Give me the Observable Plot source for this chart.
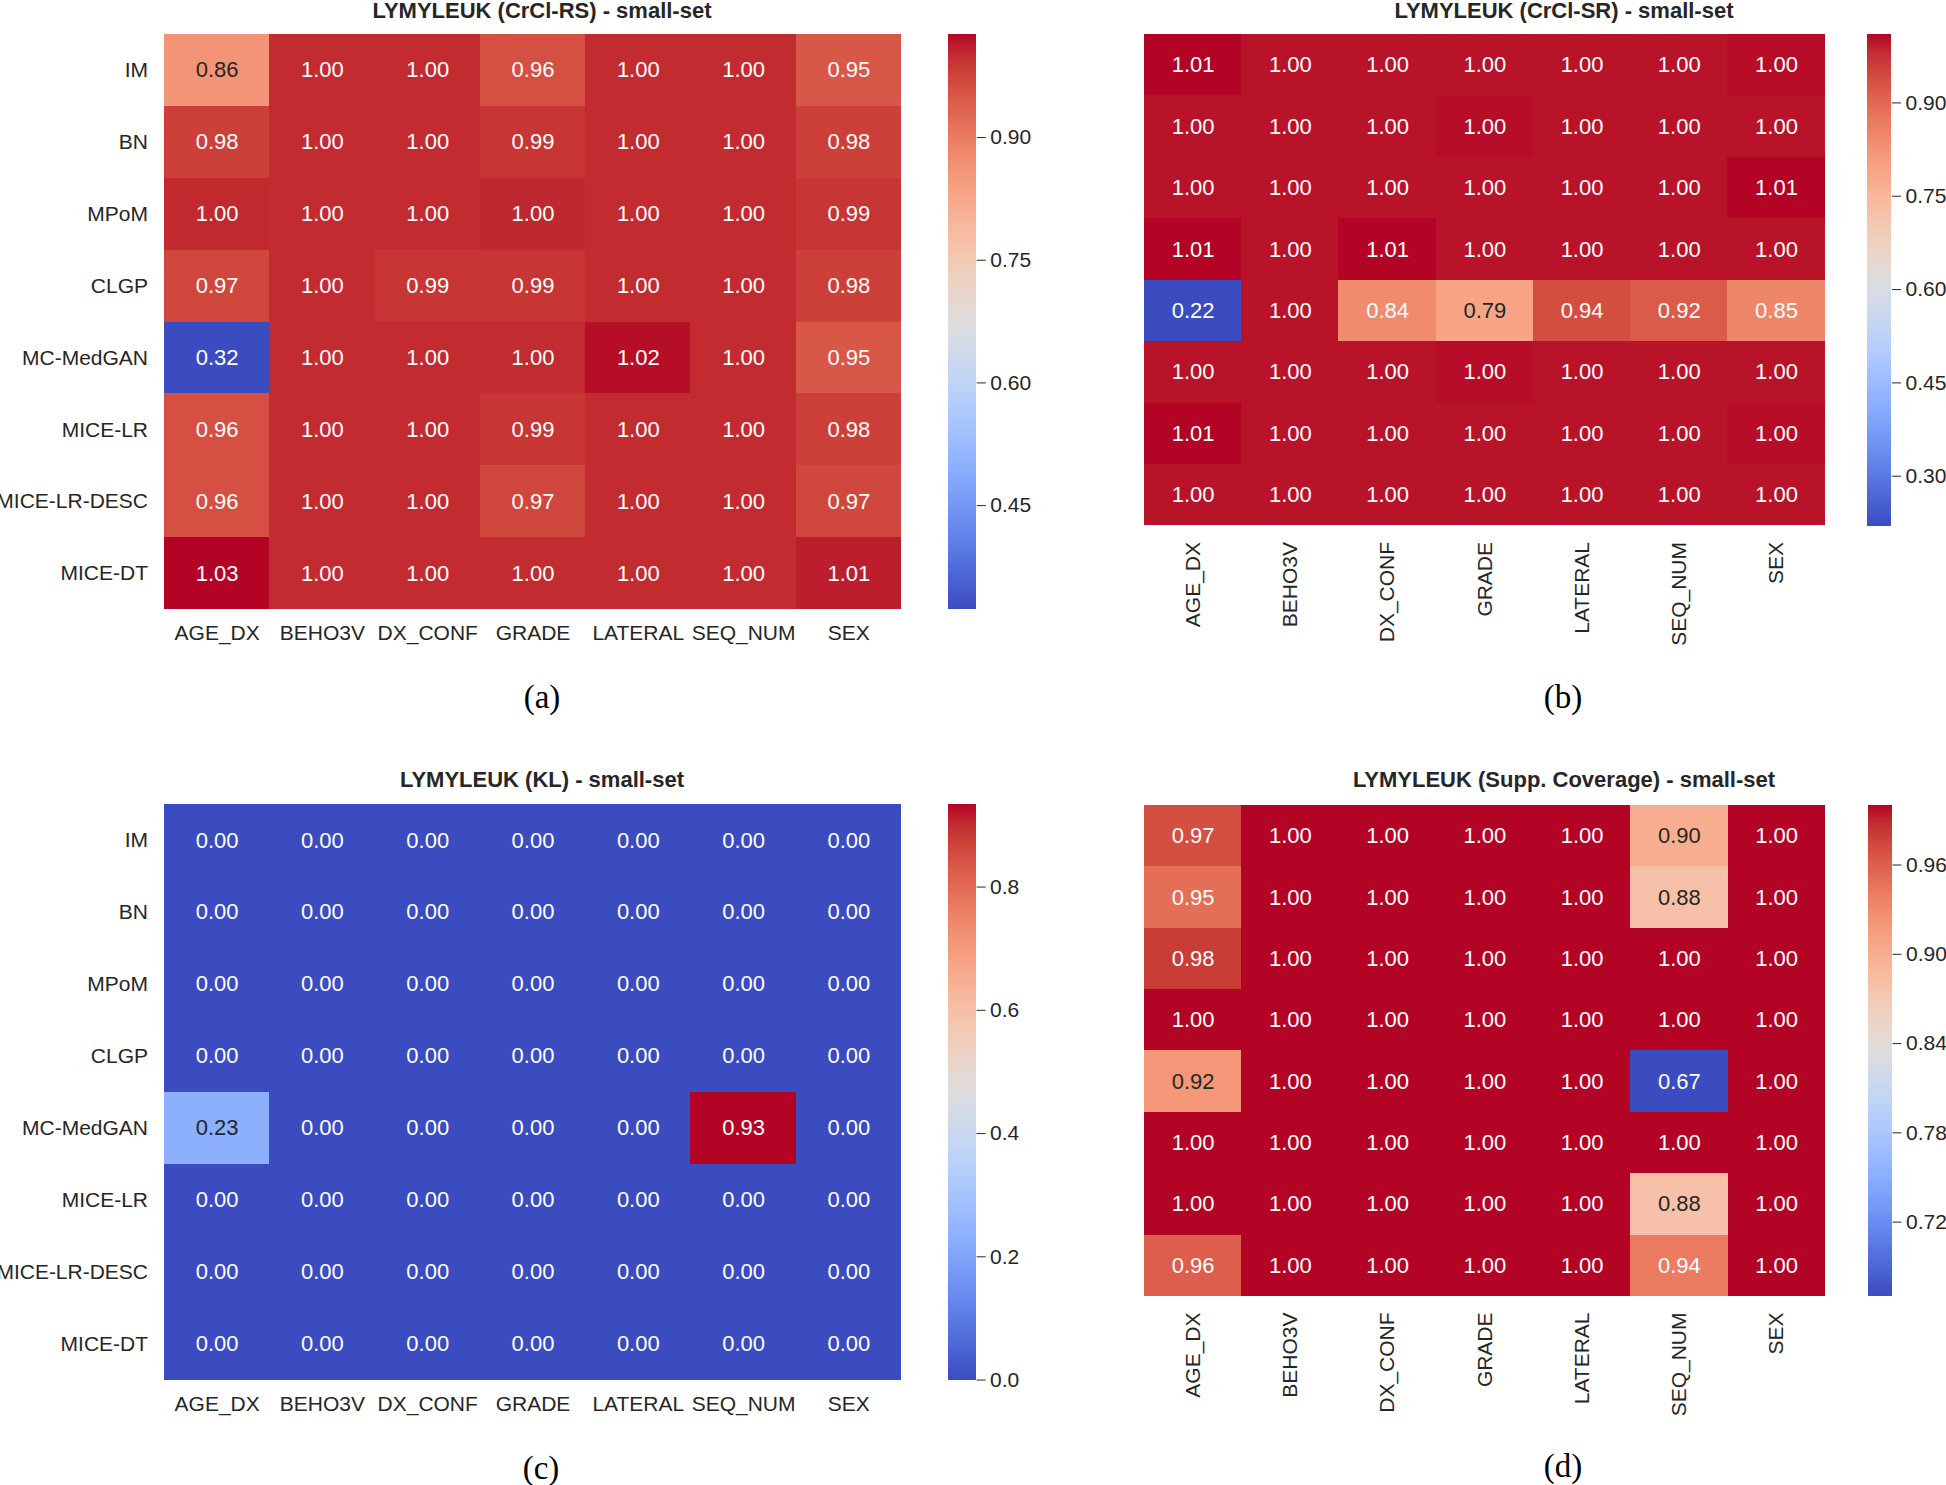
<!DOCTYPE html>
<html>
<head>
<meta charset="utf-8">
<script src="https://cdn.jsdelivr.net/npm/d3@7"></script>
<script src="https://cdn.jsdelivr.net/npm/@observablehq/plot@0.6"></script>
<style>
  html, body { margin: 0; padding: 0; background: #fff; }
  #fig { position: relative; width: 1946px; height: 1485px; overflow: hidden; background: #fff; }
  .ttl { position: absolute; font-family: "Liberation Sans", Arial, sans-serif; font-weight: bold; font-size: 22px;
         color: #262626; text-align: center; white-space: nowrap; width: 800px; height: 22px; line-height: 22px; }
  .sub { position: absolute; font-family: "Liberation Serif", "Times New Roman", serif; font-size: 33px;
         color: #000; text-align: center; width: 200px; height: 40px; line-height: 40px; }
</style>
</head>
<body>
<div id="fig"></div>
<script>
// ---------------- data ----------------
const methods = ["IM", "BN", "MPoM", "CLGP", "MC-MedGAN", "MICE-LR", "MICE-LR-DESC", "MICE-DT"];
const features = ["AGE_DX", "BEHO3V", "DX_CONF", "GRADE", "LATERAL", "SEQ_NUM", "SEX"];

const crclRS = [
  [0.86, 1.00, 1.00, 0.96, 1.00, 1.00, 0.95],
  [0.98, 1.00, 1.00, 0.99, 1.00, 1.00, 0.98],
  [1.003, 1.00, 1.00, 1.004, 1.00, 1.00, 0.99],
  [0.97, 1.00, 0.99, 0.99, 1.00, 1.00, 0.98],
  [0.323, 1.00, 1.00, 1.00, 1.02, 1.00, 0.95],
  [0.96, 1.00, 1.00, 0.99, 1.00, 1.00, 0.98],
  [0.96, 1.00, 1.00, 0.97, 1.00, 1.00, 0.97],
  [1.026, 1.00, 1.00, 1.00, 1.00, 1.00, 1.01]
];
const crclSR = [
  [1.01, 1.00, 1.00, 1.00, 1.00, 1.00, 1.004],
  [1.00, 1.00, 1.00, 1.004, 1.00, 1.00, 1.00],
  [1.00, 1.00, 1.00, 1.00, 1.00, 1.00, 1.01],
  [1.01, 1.00, 1.01, 1.00, 1.00, 1.00, 1.00],
  [0.22, 1.00, 0.84, 0.79, 0.94, 0.92, 0.85],
  [1.00, 1.00, 1.00, 1.004, 1.00, 1.00, 1.00],
  [1.01, 1.00, 1.00, 1.00, 1.00, 1.00, 1.004],
  [1.00, 1.00, 1.00, 1.00, 1.00, 1.00, 1.00]
];
const klDiv = [
  [0.00, 0.00, 0.00, 0.00, 0.00, 0.00, 0.00],
  [0.00, 0.00, 0.00, 0.00, 0.00, 0.00, 0.00],
  [0.00, 0.00, 0.00, 0.00, 0.00, 0.00, 0.00],
  [0.00, 0.00, 0.00, 0.00, 0.00, 0.00, 0.00],
  [0.23, 0.00, 0.00, 0.00, 0.00, 0.934, 0.00],
  [0.00, 0.00, 0.00, 0.00, 0.00, 0.00, 0.00],
  [0.00, 0.00, 0.00, 0.00, 0.00, 0.00, 0.00],
  [0.00, 0.00, 0.00, 0.00, 0.00, 0.00, 0.00]
];
const suppCoverage = [
  [0.97, 1.00, 1.00, 1.00, 1.00, 0.90, 1.00],
  [0.95, 1.00, 1.00, 1.00, 1.00, 0.88, 1.00],
  [0.98, 1.00, 1.00, 1.00, 1.00, 1.00, 1.00],
  [1.00, 1.00, 1.00, 1.00, 1.00, 1.00, 1.00],
  [0.92, 1.00, 1.00, 1.00, 1.00, 0.67, 1.00],
  [1.00, 1.00, 1.00, 1.00, 1.00, 1.00, 1.00],
  [1.00, 1.00, 1.00, 1.00, 1.00, 0.88, 1.00],
  [0.96, 1.00, 1.00, 1.00, 1.00, 0.94, 1.00]
];

const ticksRS = [0.45, 0.60, 0.75, 0.90];
const ticksSR = [0.30, 0.45, 0.60, 0.75, 0.90];
const ticksKL = [0.0, 0.2, 0.4, 0.6, 0.8];
const ticksSupp = [0.72, 0.78, 0.84, 0.90, 0.96];

const titles = [
  "LYMYLEUK (CrCl-RS) - small-set",
  "LYMYLEUK (CrCl-SR) - small-set",
  "LYMYLEUK (KL) - small-set",
  "LYMYLEUK (Supp. Coverage) - small-set"
];
const subLabels = ["(a)", "(b)", "(c)", "(d)"];

// ---------------- styling ----------------
// matplotlib "coolwarm" (Moreland) control colours
const coolwarmStops = [
  "#3b4cc0", "#445acc", "#4d68d7", "#5775e1", "#6282ea", "#6c8ef1", "#779af7", "#82a5fb",
  "#8db0fe", "#98b9ff", "#a3c2ff", "#aec9fd", "#b8d0f9", "#c2d5f4", "#ccd9ee", "#d5dbe5",
  "#dddddd", "#e5d8d1", "#ecd3c5", "#f1ccb8", "#f5c4ac", "#f7bba0", "#f7b194", "#f7a687",
  "#f49a7b", "#f18d6f", "#ec7f63", "#e57058", "#de604d", "#d55042", "#cb3e38", "#c0282f",
  "#b40426"
];
const coolwarm = d3.piecewise(d3.interpolateRgb, coolwarmStops);
const FONT = "'Liberation Sans', Arial, Helvetica, sans-serif";
const INK = "#262626";

function luminance(c) {
  const rgb = d3.rgb(c);
  const lin = v => { v /= 255; return v <= 0.03928 ? v / 12.92 : Math.pow((v + 0.055) / 1.055, 2.4); };
  return 0.2126 * lin(rgb.r) + 0.7152 * lin(rgb.g) + 0.0722 * lin(rgb.b);
}

const panels = [
  {values: crclRS, ticks: ticksRS, fmt: ".2f", x: 164, y: 33.5, w: 737, h: 575, yAxis: true, rotate: 0,
   cbx: 947.5, cbw: 27.8, title: [542, 11], sub: [542, 697]},
  {values: crclSR, ticks: ticksSR, fmt: ".2f", x: 1144, y: 33.5, w: 680.6, h: 491.5, yAxis: false, rotate: -90,
   cbx: 1867.3, cbw: 24, title: [1564, 11], sub: [1563, 697]},
  {values: klDiv, ticks: ticksKL, fmt: ".1f", x: 164, y: 804.4, w: 737, h: 575.6, yAxis: true, rotate: 0,
   cbx: 948, cbw: 27.6, title: [542, 779.5], sub: [541, 1468]},
  {values: suppCoverage, ticks: ticksSupp, fmt: ".2f", x: 1144, y: 805, w: 680.8, h: 491, yAxis: false, rotate: -90,
   cbx: 1868, cbw: 23.5, title: [1564, 780], sub: [1563, 1466]}
];

const fig = document.getElementById("fig");

function place(el, left, top) {
  el.style.position = "absolute";
  el.style.left = left + "px";
  el.style.top = top + "px";
  fig.appendChild(el);
}

panels.forEach((p, k) => {
  const data = methods.flatMap((m, i) => features.map((f, j) => ({method: m, feature: f, value: p.values[i][j]})));
  const dom = d3.extent(data, d => d.value);
  const color = {type: "linear", domain: dom, interpolate: coolwarm};
  const isLight = d => luminance(coolwarm((d.value - dom[0]) / (dom[1] - dom[0]))) > 0.408;
  const fmt2 = d3.format(".2f");

  const ml = p.yAxis ? p.x : 10;
  const mt = 10, mb = 130, mr = 2;
  const heat = Plot.plot({
    width: ml + p.w + mr,
    height: mt + p.h + mb,
    marginLeft: ml, marginRight: mr, marginTop: mt, marginBottom: mb,
    x: {domain: features, padding: 0, round: false, tickSize: 0, tickPadding: 16, tickRotate: p.rotate, label: null},
    y: {domain: methods, padding: 0, round: false, tickSize: 0, tickPadding: 16.5, label: null, axis: p.yAxis ? "left" : null},
    color,
    style: {fontFamily: FONT, fontSize: "21px", color: INK, background: "transparent", overflow: "visible"},
    marks: [
      Plot.cell(data, {x: "feature", y: "method", fill: "value", shapeRendering: "crispEdges"}),
      Plot.text(data, {filter: d => !isLight(d), x: "feature", y: "method", text: d => fmt2(d.value),
                       fill: "white", fontSize: 22}),
      Plot.text(data, {filter: isLight, x: "feature", y: "method", text: d => fmt2(d.value),
                       fill: INK, fontSize: 22})
    ]
  });
  place(heat, p.x - ml, p.y - mt);

  // colour bar
  const n = 256;
  const strips = d3.range(n).map(i => ({lo: dom[0] + (dom[1] - dom[0]) * i / n, hi: dom[0] + (dom[1] - dom[0]) * (i + 1) / n}));
  const cbr = 90;
  const bar = Plot.plot({
    width: p.cbw + cbr,
    height: mt + p.h + mb,
    marginLeft: 0, marginRight: cbr, marginTop: mt, marginBottom: mb,
    x: {domain: [0, 1], axis: null},
    y: {domain: dom, axis: "right", ticks: p.ticks, tickFormat: d3.format(p.fmt), tickSize: 9, tickPadding: 5, label: null},
    color,
    style: {fontFamily: FONT, fontSize: "21px", color: INK, background: "transparent", overflow: "visible"},
    marks: [
      Plot.rect(strips, {x1: 0, x2: 1, y1: "lo", y2: "hi", fill: d => (d.lo + d.hi) / 2, shapeRendering: "crispEdges"})
    ]
  });
  place(bar, p.cbx, p.y - mt);

  const t = document.createElement("div");
  t.className = "ttl";
  t.textContent = titles[k];
  place(t, p.title[0] - 400, p.title[1] - 11);

  const s = document.createElement("div");
  s.className = "sub";
  s.textContent = subLabels[k];
  place(s, p.sub[0] - 100, p.sub[1] - 20);
});
</script>
</body>
</html>
